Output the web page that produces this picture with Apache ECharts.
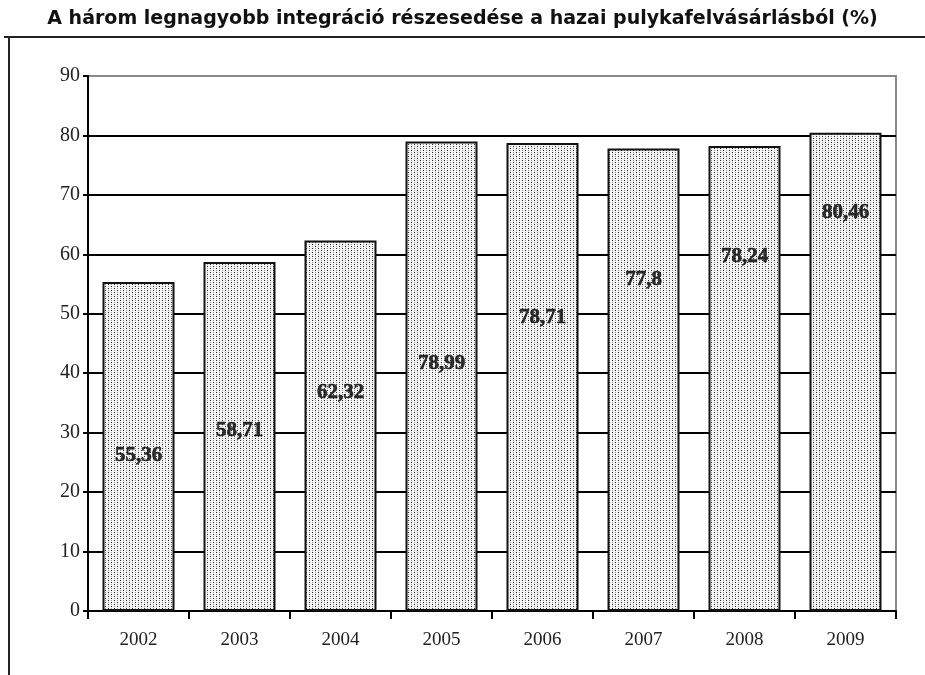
<!DOCTYPE html>
<html>
<head>
<meta charset="utf-8">
<script src="https://cdn.jsdelivr.net/npm/echarts@6/dist/echarts.min.js"></script>
<style>html,body{margin:0;padding:0;background:#fff;}#c{width:925px;height:675px;}</style>
</head>
<body>
<div id="c"></div>
<script>
var titleText = 'A három legnagyobb integráció részesedése a hazai pulykafelvásárlásból (%)';
var categories = ['2002', '2003', '2004', '2005', '2006', '2007', '2008', '2009'];
var shareValues = [55.36, 58.71, 62.32, 78.99, 78.71, 77.8, 78.24, 80.46];
var labelHeights = [26.2, 30.4, 36.7, 41.7, 49.3, 55.7, 59.6, 67.0];
var yTicks = [0, 10, 20, 30, 40, 50, 60, 70, 80, 90];

function makePattern() {
  var cv = document.createElement('canvas');
  cv.width = 6; cv.height = 4;
  var ctx = cv.getContext('2d');
  ctx.fillStyle = '#f4f4f4';
  ctx.fillRect(0, 0, 6, 4);
  ctx.fillStyle = '#222';
  ctx.fillRect(0, 0, 1, 1);
  ctx.fillRect(3, 2, 1, 1);
  ctx.fillStyle = '#999';
  ctx.fillRect(3, 0, 1, 1);
  ctx.fillRect(0, 2, 1, 1);
  return cv;
}

var chart = echarts.init(document.getElementById('c'), null, {renderer: 'canvas'});
var serif = '"Liberation Serif", "Times New Roman", serif';
chart.setOption({
  animation: false,
  backgroundColor: '#fff',
  title: {
    text: titleText,
    left: 'center',
    top: 5,
    textStyle: {fontFamily: '"DejaVu Sans"', fontWeight: 'bold', fontSize: 19, color: '#111'}
  },
  graphic: [
    {type: 'line', shape: {x1: 4, y1: 37, x2: 925, y2: 37}, style: {stroke: '#222', lineWidth: 2}},
    {type: 'line', shape: {x1: 9, y1: 37, x2: 9, y2: 675}, style: {stroke: '#222', lineWidth: 2}}
  ],
  grid: {left: 88, right: 29, top: 76, bottom: 64, show: true, borderColor: '#888', borderWidth: 2, backgroundColor: 'transparent'},
  xAxis: {
    type: 'category',
    data: categories,
    axisLine: {lineStyle: {color: '#000', width: 2}},
    axisTick: {show: true, length: 8, lineStyle: {color: '#000', width: 2}},
    axisLabel: {fontFamily: serif, fontSize: 19, color: '#222', margin: 20}
  },
  yAxis: {
    type: 'value',
    min: yTicks[0],
    max: yTicks[yTicks.length - 1],
    interval: 10,
    axisLine: {show: true, lineStyle: {color: '#000', width: 2}},
    axisTick: {show: true, length: 5, lineStyle: {color: '#000', width: 2}},
    axisLabel: {fontFamily: serif, fontSize: 20, color: '#222', margin: 8},
    splitLine: {show: true, lineStyle: {color: ['#000','#000','#000','#000','#000','#000','#000','#000','#000','#888'], width: 2}}
  },
  series: [
    {
      type: 'bar',
      data: shareValues,
      barWidth: 72,
      itemStyle: {color: {image: makePattern(), repeat: 'repeat'}, borderColor: '#111', borderWidth: 2},
      z: 3
    },
    {
      type: 'scatter',
      data: categories.map(function (c, i) { return [c, labelHeights[i], shareValues[i]]; }),
      symbolSize: 1,
      itemStyle: {color: 'rgba(0,0,0,0)'},
      label: {
        show: true,
        position: 'inside',
        formatter: function (p) { return String(p.value[2]).replace('.', ','); },
        fontFamily: serif,
        fontWeight: 'bold',
        fontSize: 21,
        color: '#000',
        textBorderColor: '#000',
        textBorderWidth: 0.6
      },
      z: 5
    }
  ]
});
</script>
</body>
</html>
